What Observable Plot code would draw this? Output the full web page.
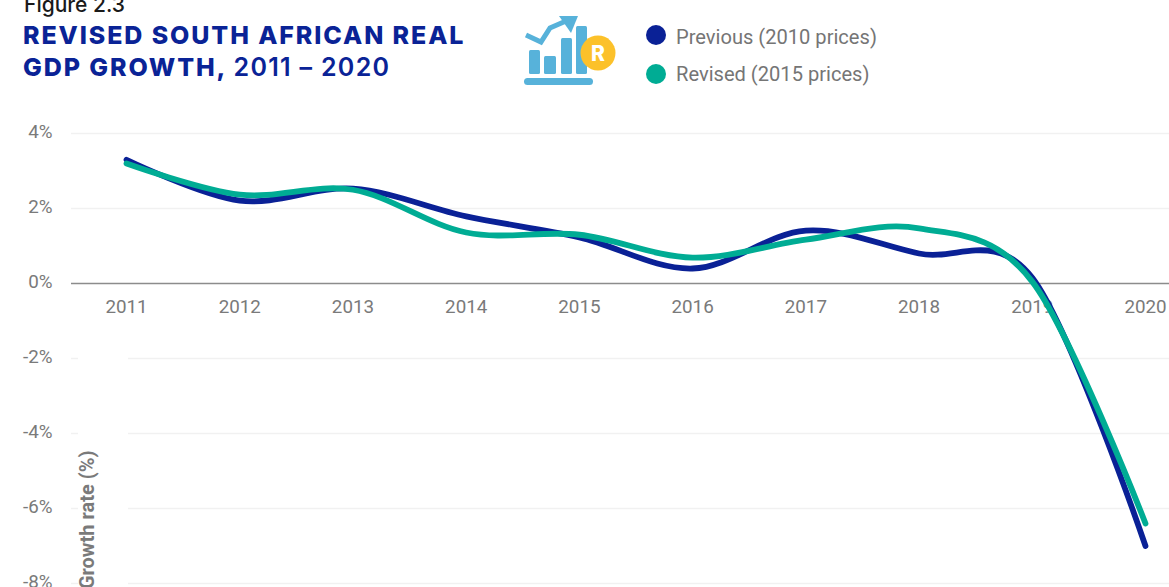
<!DOCTYPE html>
<html><head><meta charset="utf-8">
<script src="https://cdn.jsdelivr.net/npm/d3@7"></script>
<script src="https://cdn.jsdelivr.net/npm/@observablehq/plot@0.6"></script>
<style>
html,body{margin:0;padding:0;background:#fff;overflow:hidden}
#wrap{position:relative;width:1169px;height:587px;overflow:hidden}
#wrap svg.plot{position:absolute;left:0;top:0}
.fig{position:absolute;left:24px;top:-6px;font:500 21px/22px Inter,sans-serif;color:#1a1a1a}
.ttl{position:absolute;left:23px;font:800 25px/32px Inter,sans-serif;color:#0a2396;letter-spacing:1.9px;white-space:nowrap}
.ttl span{font-weight:600;letter-spacing:1.3px}
.dot{position:absolute;left:646px;width:20px;height:20px;border-radius:50%}
.lg{position:absolute;left:676px;font:400 20.1px/24px Roboto,sans-serif;color:#757575;white-space:nowrap}
#icon{position:absolute;left:520px;top:12px}
</style></head><body>
<div id="wrap"></div>
<script>
const years = [2011,2012,2013,2014,2015,2016,2017,2018,2019,2020];
const previous = [3.3,2.21,2.53,1.79,1.23,0.4,1.41,0.8,0.15,-7.0];
const revised = [3.2,2.37,2.5,1.36,1.3,0.69,1.17,1.47,0.05,-6.4];
const yTicks = [4,2,0,-2,-4,-6,-8];
const posTicks = [4,2];
const negTicks = [-2,-4,-6,-8];
const navy = "#0a2196", teal = "#00ac94", grey = "#7a7a7a";
const xLeft = 2010.514, xRight = 2020.212;
const curve = d3.curveCatmullRom.alpha(0);

const chart = Plot.plot({
  width:1169, height:587, marginLeft:71, marginRight:0, marginTop:133, marginBottom:4,
  style:{fontFamily:"Roboto, sans-serif", background:"transparent", overflow:"hidden"},
  x:{domain:[xLeft,xRight], axis:null},
  y:{domain:[-8,4]},
  marks:[
    Plot.ruleY(posTicks,{x1:xLeft,x2:xRight,stroke:"#f1f1f1",strokeWidth:1.5}),
    Plot.ruleY(negTicks,{x1:xLeft,x2:2010.576,stroke:"#f1f1f1",strokeWidth:1.5}),
    Plot.ruleY(negTicks,{x1:2011.018,x2:xRight,stroke:"#f1f1f1",strokeWidth:1.5}),
    Plot.ruleY([0],{x1:xLeft,x2:xRight,stroke:"#8c8c8c",strokeWidth:1.6}),
    Plot.axisY({ticks:yTicks,tickSize:0,tickPadding:19,label:null,fontSize:18.8,fill:grey,dy:-2,tickFormat:d=>`${d}%`}),
    Plot.text(years,{x:d=>d,y:()=>0,dy:23,text:d=>String(d),fontSize:18.8,fill:grey}),
    Plot.text(["Growth rate (%)"],{x:()=>2010.655,y:()=>-4.453,rotate:-90,textAnchor:"end",fontSize:20,fontWeight:700,fill:grey}),
    Plot.line(years,{x:d=>d,y:(d,i)=>previous[i],curve,stroke:navy,strokeWidth:5.8,strokeLinecap:"round"}),
    Plot.line(years,{x:d=>d,y:(d,i)=>revised[i],curve,stroke:teal,strokeWidth:5.8,strokeLinecap:"round"})
  ]
});
const wrap = document.getElementById("wrap");
wrap.appendChild(chart);
wrap.insertAdjacentHTML("beforeend",`
<div class="fig">Figure 2.3</div>
<div class="ttl" style="top:19px">REVISED SOUTH AFRICAN REAL</div>
<div class="ttl" style="top:51px">GDP GROWTH, <span>2011 – 2020</span></div>
<svg id="icon" width="100" height="76" viewBox="0 0 100 76">
  <g fill="#57b2da">
    <rect x="9" y="38" width="11" height="24" rx="1.5"/>
    <rect x="24" y="44" width="12" height="18" rx="1.5"/>
    <rect x="41" y="26" width="11" height="36" rx="1.5"/>
    <rect x="56" y="14" width="11" height="48" rx="1.5"/>
    <rect x="4" y="66" width="69" height="7" rx="3.5"/>
    <polygon points="39,4 58,4 51,21"/>
  </g>
  <polyline points="6,23 21,30 30,16 46,9" fill="none" stroke="#57b2da" stroke-width="5"/>
  <circle cx="78" cy="41" r="17.5" fill="#fcc12a"/>
  <text x="78" y="48.5" text-anchor="middle" font-family="Inter,sans-serif" font-weight="800" font-size="21" fill="#fff">R</text>
</svg>
<div class="dot" style="top:25px;background:${navy}"></div>
<div class="lg" style="top:25px">Previous (2010 prices)</div>
<div class="dot" style="top:64px;background:${teal}"></div>
<div class="lg" style="top:62px">Revised (2015 prices)</div>
`);
</script>
</body></html>
